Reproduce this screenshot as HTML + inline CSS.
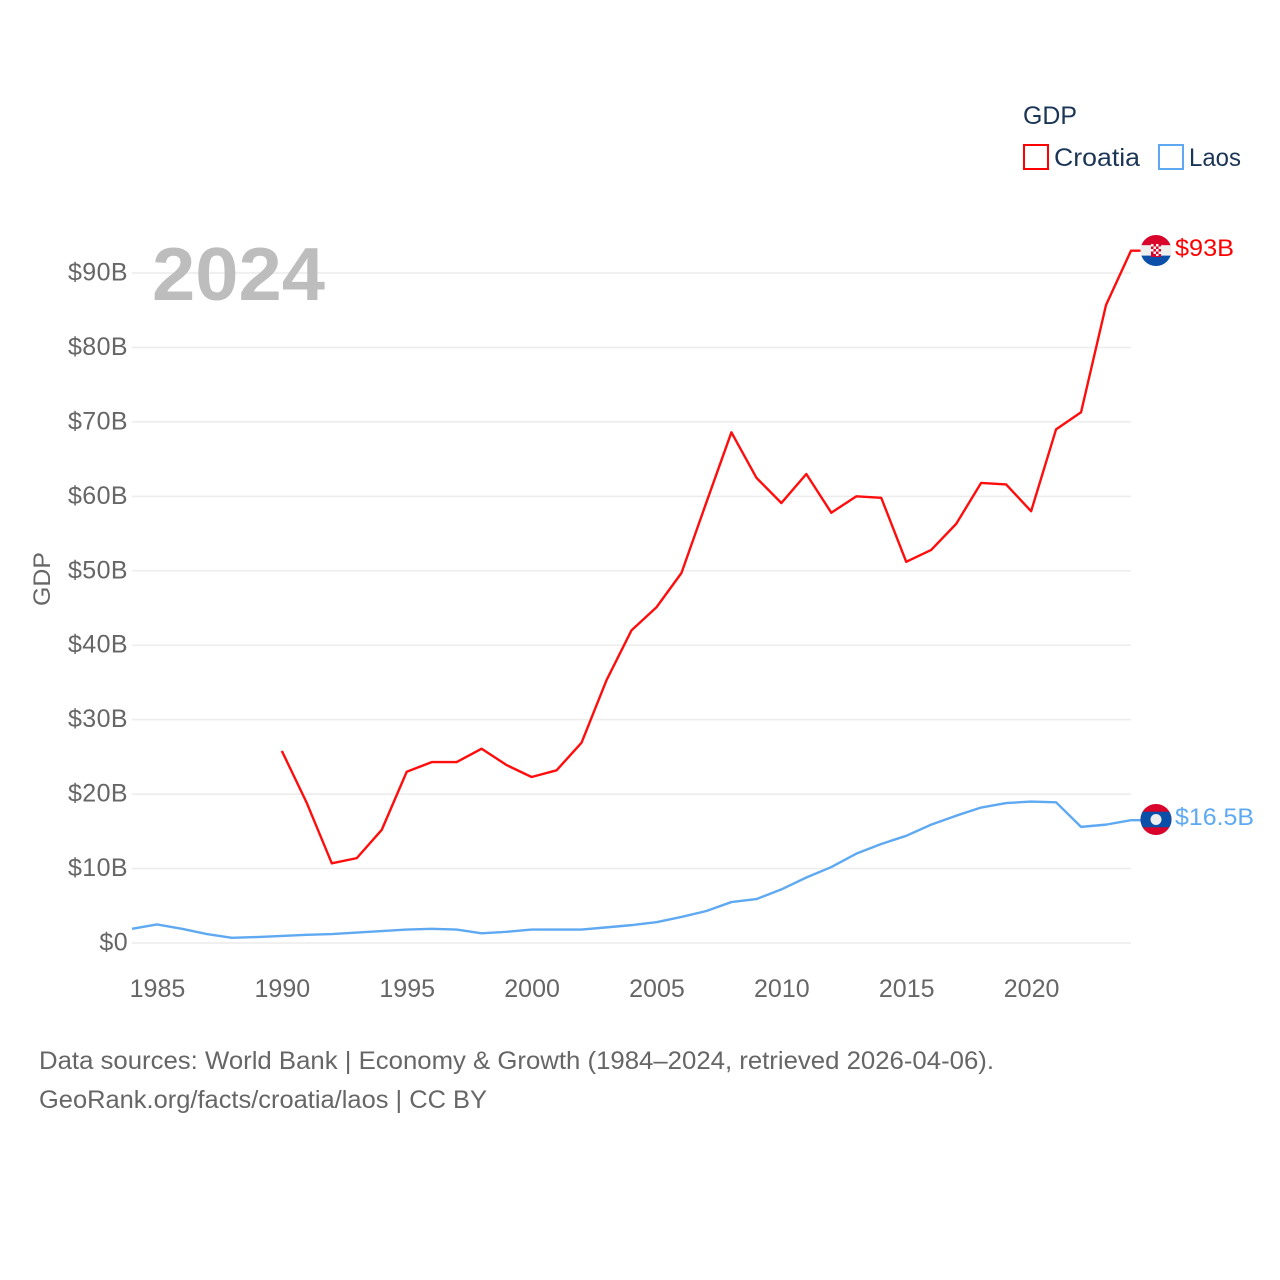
<!DOCTYPE html>
<html lang="en">
<head>
<meta charset="utf-8">
<title>GDP: Croatia and Laos</title>
<style>
html,body{margin:0;padding:0;background:#fff;}
svg{display:block;font-family:"Liberation Sans",sans-serif;}
</style>
</head>
<body>
<svg id="chart" width="1280" height="1280" viewBox="0 0 1280 1280" xmlns="http://www.w3.org/2000/svg">
  <rect x="0" y="0" width="1280" height="1280" fill="#ffffff"/>
  <defs>
    <clipPath id="clip-hr"><circle cx="1156" cy="250.5" r="15.5"/></clipPath>
    <clipPath id="clip-la"><circle cx="1156" cy="819.5" r="15.5"/></clipPath>
  </defs>
  <g id="grid"></g>
  <g id="yticks"></g>
  <g id="xticks"></g>
  <text x="152" y="300" font-size="75" font-weight="700" fill="#bdbdbd" textLength="173" lengthAdjust="spacingAndGlyphs">2024</text>
  <text transform="translate(50,579) rotate(-90)" text-anchor="middle" font-size="24" fill="#666666" textLength="54" lengthAdjust="spacingAndGlyphs">GDP</text>
  <g id="series"></g>
  <g id="flag-hr" clip-path="url(#clip-hr)">
    <rect x="1140" y="235" width="32" height="10.3" fill="#d9042b"/>
    <rect x="1140" y="245.3" width="32" height="10.3" fill="#eeeeee"/>
    <rect x="1140" y="255.6" width="32" height="10.4" fill="#0a4fa8"/>
    <rect x="1151" y="242" width="10" height="15" fill="#d9042b"/>
    <g fill="#f2f2f2">
      <rect x="1151" y="244" width="2.5" height="2.5"/><rect x="1156" y="244" width="2.5" height="2.5"/>
      <rect x="1153.5" y="246.5" width="2.5" height="2.5"/><rect x="1158.5" y="246.5" width="2.5" height="2.5"/>
      <rect x="1151" y="249" width="2.5" height="2.5"/><rect x="1156" y="249" width="2.5" height="2.5"/>
      <rect x="1153.5" y="251.5" width="2.5" height="2.5"/><rect x="1158.5" y="251.5" width="2.5" height="2.5"/>
      <rect x="1156" y="254" width="2.5" height="2"/>
    </g>
  </g>
  <g id="flag-la" clip-path="url(#clip-la)">
    <rect x="1140" y="804" width="32" height="31" fill="#d9042b"/>
    <rect x="1140" y="811.7" width="32" height="15.6" fill="#0a4fa8"/>
    <circle cx="1156" cy="819.5" r="5.5" fill="#eeeeee"/>
  </g>
  <text id="end-hr" x="1175" y="256" font-size="24" fill="#ff0000" textLength="59" lengthAdjust="spacingAndGlyphs">$93B</text>
  <text id="end-la" x="1175" y="825" font-size="24" fill="#5ea9f2" textLength="79" lengthAdjust="spacingAndGlyphs">$16.5B</text>
  <g>
    <text x="1023" y="124" font-size="25" fill="#1b3556" textLength="54" lengthAdjust="spacingAndGlyphs">GDP</text>
    <rect x="1024" y="145" width="24" height="24" fill="none" stroke="#ff0000" stroke-width="2"/>
    <text x="1054" y="166" font-size="25" fill="#1b3556" textLength="86" lengthAdjust="spacingAndGlyphs">Croatia</text>
    <rect x="1159" y="145" width="24" height="24" fill="none" stroke="#5ea9f2" stroke-width="2"/>
    <text x="1189" y="166" font-size="25" fill="#1b3556" textLength="52" lengthAdjust="spacingAndGlyphs">Laos</text>
  </g>
  <text x="39" y="1069" font-size="25" fill="#666666" textLength="955" lengthAdjust="spacingAndGlyphs">Data sources: World Bank | Economy &amp; Growth (1984–2024, retrieved 2026-04-06).</text>
  <a><text x="39" y="1108" font-size="25" fill="#666666" textLength="448" lengthAdjust="spacingAndGlyphs">GeoRank.org/facts/croatia/laos | CC BY</text></a>
</svg>
<script>
const startYear = 1984;
const years = [1984,1985,1986,1987,1988,1989,1990,1991,1992,1993,1994,1995,1996,1997,1998,1999,2000,2001,2002,2003,2004,2005,2006,2007,2008,2009,2010,2011,2012,2013,2014,2015,2016,2017,2018,2019,2020,2021,2022,2023,2024];
const croatia = [null,null,null,null,null,null,25.8,18.8,10.7,11.4,15.2,23.0,24.3,24.3,26.1,23.9,22.3,23.2,26.9,35.3,42.0,45.1,49.7,59.2,68.6,62.5,59.1,63.0,57.8,60.0,59.8,51.2,52.8,56.3,61.8,61.6,58.0,69.0,71.3,85.7,93.0];
const laos = [1.9,2.5,1.9,1.2,0.7,0.8,0.95,1.1,1.2,1.4,1.6,1.8,1.9,1.8,1.3,1.5,1.8,1.8,1.8,2.1,2.4,2.8,3.5,4.3,5.5,5.9,7.2,8.8,10.2,12.0,13.3,14.4,15.9,17.1,18.2,18.8,19.0,18.9,15.6,15.9,16.5];
const yTickValues = [0,10,20,30,40,50,60,70,80,90];
const yTickLabels = ["$0","$10B","$20B","$30B","$40B","$50B","$60B","$70B","$80B","$90B"];
const xTickValues = [1985,1990,1995,2000,2005,2010,2015,2020];
const xTickLabels = ["1985","1990","1995","2000","2005","2010","2015","2020"];

const NS = 'http://www.w3.org/2000/svg';
const plotLeft = 132, plotRight = 1131, plotZero = 943, plot90 = 273;
function xScale(year){ return plotLeft + (year - startYear) * (plotRight - plotLeft) / 40; }
function yScale(v){ return plotZero - v * (plotZero - plot90) / 90; }
function make(tag, attrs){
  const el = document.createElementNS(NS, tag);
  for (const k in attrs) el.setAttribute(k, attrs[k]);
  return el;
}
const gridG = document.getElementById('grid');
const yG = document.getElementById('yticks');
const xG = document.getElementById('xticks');
const seriesG = document.getElementById('series');

yTickValues.forEach(function(v, i){
  const y = yScale(v);
  const line = make('line', {x1: plotLeft, x2: plotRight, y1: y, y2: y, stroke: '#ececec', 'stroke-width': 1.5});
  
  
  gridG.appendChild(line);
  const t = make('text', {x: 128, y: y + 7.5, 'text-anchor': 'end', 'font-size': 25, fill: '#666666', 'letter-spacing': 0.4});
  t.textContent = yTickLabels[i];
  
  
  yG.appendChild(t);
});
xTickValues.forEach(function(v, i){
  const t = make('text', {x: xScale(v) + 0.5, y: 997, 'text-anchor': 'middle', 'font-size': 25, fill: '#666666'});
  t.textContent = xTickLabels[i];
  
  
  xG.appendChild(t);
});
function pathFor(values){
  let d = '';
  let pen = false;
  values.forEach(function(v, i){
    if (v === null) { pen = false; return; }
    d += (pen ? 'L' : 'M') + xScale(years[i]).toFixed(2) + ' ' + yScale(v).toFixed(2);
    pen = true;
  });
  const last = values[values.length - 1];
  d += 'L' + (xScale(years[years.length - 1]) + 10) + ' ' + yScale(last).toFixed(2);
  return d;
}
const laosPath = make('path', {d: pathFor(laos), fill: 'none', stroke: '#5ea9f2', 'stroke-width': 2.4, 'stroke-linejoin': 'round'});


seriesG.appendChild(laosPath);
const croatiaPath = make('path', {d: pathFor(croatia), fill: 'none', stroke: '#ff0d0d', 'stroke-width': 2.4, 'stroke-linejoin': 'round'});


seriesG.appendChild(croatiaPath);
</script>
</body>
</html>
